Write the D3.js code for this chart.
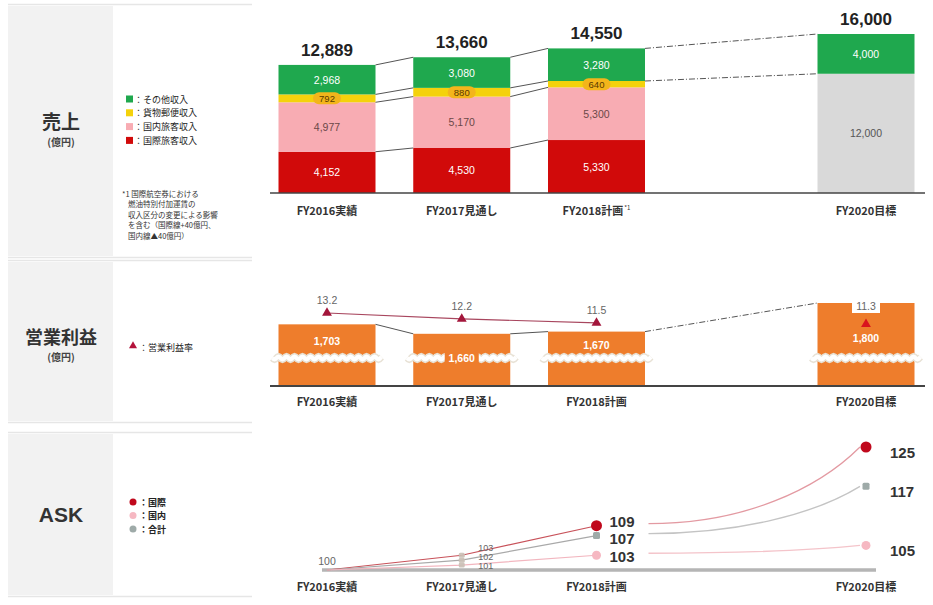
<!DOCTYPE html>
<html>
<head>
<meta charset="utf-8">
<script src="https://cdn.jsdelivr.net/npm/d3@7/dist/d3.min.js"></script>
<style>
  html, body { margin: 0; padding: 0; background: #fff; }
  svg { display: block; font-family: "Liberation Sans", Arial, "Noto Sans CJK JP", sans-serif; }
  .jp { font-family: "Noto Sans CJK JP", "Liberation Sans", sans-serif; }
</style>
</head>
<body>
<svg id="chart" width="933" height="605"></svg>
<script>
// ---- data ----
const years = [2016, 2017, 2018, 2020];
const categoryLabels = ["FY2016実績", "FY2017見通し", "FY2018計画", "FY2020目標"];
const categoryNotes = ["", "", "*1", ""];

// revenue (億円)
const intlPax  = [4152, 4530, 5330, 0];
const domPax   = [4977, 5170, 5300, 0];
const cargoRev = [792, 880, 640, 0];
const coreRev  = [0, 0, 0, 12000];
const otherRev = [2968, 3080, 3280, 4000];
const revenueTotal = [12889, 13660, 14550, 16000];

// operating profit (億円) and margin (%)
const opProfit = [1703, 1660, 1670, 1800];
const opMargin = [13.2, 12.2, 11.5, 11.3];

// ASK index (FY2016 = 100)
const askIntl  = [100, 103, 109, 125];
const askDom   = [100, 101, 103, 105];
const askTotal = [100, 102, 107, 117];

const revenueLegend = ["：その他収入", "：貨物郵便収入", "：国内旅客収入", "：国際旅客収入"];
const footnote = ["*1 国際航空券における", "燃油特別付加運賃の", "収入区分の変更による影響", "を含む（国際線+40億円、", "国内線▲40億円）"];

// ---- setup ----
const svg = d3.select("#chart");
const x = d3.scaleLinear().domain([2016, 2020]).range([327, 866]);
const barW = 97;

// left panel
const sections = [
  { y0: 6, y1: 256, title: "売上", sub: "(億円)", ty: 124, fs: 19 },
  { y0: 262, y1: 421, title: "営業利益", sub: "(億円)", ty: 339, fs: 18 },
  { y0: 434, y1: 595, title: "ASK", sub: null, ty: 516, fs: 21 }
];
sections.forEach(s => {
  svg.append("rect").attr("x", 8).attr("y", s.y0).attr("width", 105).attr("height", s.y1 - s.y0).attr("fill", "#f2f2f2");
  svg.append("line").attr("x1", 8).attr("x2", 252).attr("y1", s.y0 - 1.5).attr("y2", s.y0 - 1.5).attr("stroke", "#e6e6e6").attr("stroke-width", 1.5);
  svg.append("line").attr("x1", 8).attr("x2", 252).attr("y1", s.y1 + 1.5).attr("y2", s.y1 + 1.5).attr("stroke", "#e6e6e6").attr("stroke-width", 1.5);
  svg.append("text").attr("class", s.title === "ASK" ? "" : "jp").attr("x", 61).attr("y", s.ty)
    .attr("text-anchor", "middle").attr("dominant-baseline", "middle")
    .attr("font-size", s.fs).attr("font-weight", "bold").attr("fill", "#333").text(s.title);
  if (s.sub) {
    svg.append("text").attr("class", "jp").attr("x", 61).attr("y", s.ty + 19)
      .attr("text-anchor", "middle").attr("dominant-baseline", "middle")
      .attr("font-size", 10).attr("font-weight", "bold").attr("fill", "#444").text(s.sub);
  }
});

// ---- revenue stacked bars ----
const colors = { intl: "#d10a0a", dom: "#f8acb3", cargo: "#f4d20c", core: "#d9d9d9", other: "#1fa84e" };
const textColors = { intl: "#fff", dom: "#6b4848", cargo: "#5a3a00", core: "#555", other: "#fff" };
const keys = ["intl", "dom", "cargo", "core", "other"];
const rows = years.map((yr, i) => ({
  year: yr, intl: intlPax[i], dom: domPax[i], cargo: cargoRev[i], core: coreRev[i], other: otherRev[i]
}));
const stack = d3.stack().keys(keys)(rows);
const base1 = 193;
const y1 = d3.scaleLinear().domain([0, 16000]).range([base1, base1 - 159]);

const gRev = svg.append("g");
stack.forEach(layer => {
  layer.forEach((d, i) => {
    const v = d[1] - d[0];
    if (v <= 0) return;
    gRev.append("rect")
      .attr("x", x(years[i]) - barW / 2).attr("width", barW)
      .attr("y", y1(d[1])).attr("height", y1(d[0]) - y1(d[1]))
      .attr("fill", colors[layer.key]);
  });
});
// segment labels
stack.forEach(layer => {
  layer.forEach((d, i) => {
    const v = d[1] - d[0];
    if (v <= 0) return;
    const cy = (y1(d[0]) + y1(d[1])) / 2;
    const txt = d3.format(",")(v);
    if (layer.key === "cargo") {
      gRev.append("rect").attr("x", x(years[i]) - 14).attr("y", cy - 6).attr("width", 28).attr("height", 12)
        .attr("rx", 6).attr("fill", "#f3b51b");
    }
    gRev.append("text").attr("x", x(years[i])).attr("y", cy)
      .attr("text-anchor", "middle").attr("dominant-baseline", "central")
      .attr("font-size", layer.key === "cargo" ? 9.5 : 10.5).attr("fill", textColors[layer.key]).text(txt);
  });
});
// totals
revenueTotal.forEach((t, i) => {
  gRev.append("text").attr("x", x(years[i])).attr("y", y1(t) - 9)
    .attr("text-anchor", "middle").attr("font-size", 17).attr("font-weight", "bold").attr("fill", "#222")
    .text(d3.format(",")(t));
});
// connectors between bars
const bounds = i => [revenueTotal[i], revenueTotal[i] - otherRev[i], intlPax[i] + domPax[i], intlPax[i]];
for (let i = 0; i < years.length - 1; i++) {
  const a = bounds(i), b = bounds(i + 1);
  const n = years[i + 1] === 2020 ? 2 : 4;
  for (let k = 0; k < n; k++) {
    const bv = years[i + 1] === 2020 && k === 1 ? coreRev[i + 1] : b[k];
    gRev.append("line")
      .attr("x1", x(years[i]) + barW / 2).attr("y1", y1(a[k]))
      .attr("x2", x(years[i + 1]) - barW / 2).attr("y2", y1(bv))
      .attr("stroke", "#555").attr("stroke-width", 1)
      .attr("stroke-dasharray", years[i + 1] === 2020 ? "6,2,1,2" : null);
  }
}
// axis + categories
function axisRow(yAxis, yLabel, withNotes, thick) {
  svg.append("line").attr("x1", 270).attr("x2", 925).attr("y1", yAxis).attr("y2", yAxis)
    .attr("stroke", "#444").attr("stroke-width", thick || 1.5);
  categoryLabels.forEach((c, i) => {
    const t = svg.append("text").attr("class", "jp").attr("x", x(years[i])).attr("y", yLabel)
      .attr("text-anchor", "middle").attr("dominant-baseline", "middle")
      .attr("font-size", 11).attr("font-weight", "bold").attr("fill", "#333").text(c);
    if (withNotes && categoryNotes[i]) {
      t.append("tspan").attr("font-size", 6).attr("dy", -4).attr("dx", 1).attr("font-weight", "normal").text(categoryNotes[i]);
    }
  });
}
axisRow(base1, 212, true);

// revenue legend
const legendColors = [colors.other, colors.cargo, colors.dom, colors.intl];
revenueLegend.forEach((l, i) => {
  const yy = 99 + i * 13.8;
  svg.append("rect").attr("x", 126).attr("y", yy - 3.5).attr("width", 7).attr("height", 7).attr("fill", legendColors[i]);
  svg.append("text").attr("class", "jp").attr("x", 134).attr("y", yy).attr("dominant-baseline", "central")
    .attr("font-size", 9).attr("fill", "#222").text(l);
});
footnote.forEach((l, i) => {
  svg.append("text").attr("class", "jp").attr("x", i === 0 ? 122 : 128).attr("y", 193 + i * 10.5)
    .attr("dominant-baseline", "central").attr("font-size", 7.5).attr("fill", "#333").text(l);
});

// ---- operating profit (broken bars) ----
const base2 = 386, breakY = 358;
const y2 = d3.scaleLinear().domain([1550, 1800]).range([breakY, 303]);
const y3 = d3.scaleLinear().domain([11, 14]).range([325.9, 308.3]);
const gOp = svg.append("g");
const orange = "#ee7d2c";
opProfit.forEach((v, i) => {
  gOp.append("rect").attr("x", x(years[i]) - barW / 2).attr("width", barW)
    .attr("y", y2(v)).attr("height", base2 - y2(v)).attr("fill", orange);
});
// wavy break band
function wave(x0, x1, yy) {
  const pts = d3.range(x0, x1 + 0.5, 1).map(px => [px, yy + 1.4 * Math.sin((px - x0) / 4 * Math.PI)]);
  return d3.line()(pts);
}
opProfit.forEach((v, i) => {
  const xa = x(years[i]) - barW / 2 - 6, xb = x(years[i]) + barW / 2 + 6;
  gOp.append("path").attr("d", wave(xa, xb, breakY)).attr("fill", "none").attr("stroke", "#e8e2d6").attr("stroke-width", 7);
  gOp.append("path").attr("d", wave(xa, xb, breakY)).attr("fill", "none").attr("stroke", "#fff").attr("stroke-width", 4);
});
// connectors between bar tops
for (let i = 0; i < years.length - 1; i++) {
  gOp.append("line")
    .attr("x1", x(years[i]) + barW / 2).attr("y1", y2(opProfit[i]))
    .attr("x2", x(years[i + 1]) - barW / 2).attr("y2", y2(opProfit[i + 1]))
    .attr("stroke", "#555").attr("stroke-width", 1)
    .attr("stroke-dasharray", years[i + 1] === 2020 ? "6,2,1,2" : null);
}
// margin line (consecutive years)
gOp.append("path")
  .attr("d", d3.line().x((d, i) => x(years[i])).y(d => y3(d))(opMargin.slice(0, 3)))
  .attr("fill", "none").attr("stroke", "#a8465e").attr("stroke-width", 1.2);
// value labels
opProfit.forEach((v, i) => {
  const top = y2(v);
  let cy = (top + breakY) / 2;
  const onBreak = breakY - top < 25;
  const ty = y3(opMargin[i]);
  if (ty > top) cy = Math.max(cy, ty + 14);
  if (onBreak) {
    cy = breakY;
    gOp.append("rect").attr("x", x(years[i]) - 17).attr("y", cy - 6).attr("width", 34).attr("height", 12).attr("fill", orange);
  }
  gOp.append("text").attr("x", x(years[i])).attr("y", cy).attr("text-anchor", "middle").attr("dominant-baseline", "central")
    .attr("font-size", 10.5).attr("font-weight", "bold").attr("fill", "#fff").text(d3.format(",")(v));
});
// margin markers + labels
opMargin.forEach((m, i) => {
  const cx = x(years[i]), cy = y3(m);
  const inside = cy > y2(opProfit[i]);
  gOp.append("path").attr("d", d3.symbol().type(d3.symbolTriangle).size(42)())
    .attr("transform", `translate(${cx},${cy})`).attr("fill", inside ? "#d9141e" : "#a3163b");
  const ly = inside ? y2(opProfit[i]) + 3 : cy - 13;
  if (inside) {
    gOp.append("rect").attr("x", cx - 14).attr("y", ly - 6).attr("width", 28).attr("height", 13).attr("fill", "#fff");
  }
  gOp.append("text").attr("x", cx).attr("y", ly).attr("text-anchor", "middle").attr("dominant-baseline", "central")
    .attr("font-size", 10.5).attr("fill", "#666").text(d3.format(".1f")(m));
});
axisRow(base2, 403, false, 2);
// legend
svg.append("path").attr("d", d3.symbol().type(d3.symbolTriangle).size(28)()).attr("transform", "translate(133,346)").attr("fill", "#b3123a");
svg.append("text").attr("class", "jp").attr("x", 139).attr("y", 347).attr("dominant-baseline", "central")
  .attr("font-size", 9).attr("fill", "#222").text("：営業利益率");

// ---- ASK ----
const y4 = d3.scaleLinear().domain([100, 125]).range([570, 447]);
const gAsk = svg.append("g");
gAsk.append("line").attr("x1", x(2016) - 5).attr("x2", x(2020) + 10).attr("y1", y4(100)).attr("y2", y4(100))
  .attr("stroke", "#b5b5b5").attr("stroke-width", 3.5);
categoryLabels.forEach((c, i) => {
  svg.append("text").attr("class", "jp").attr("x", x(years[i])).attr("y", 588)
    .attr("text-anchor", "middle").attr("dominant-baseline", "middle")
    .attr("font-size", 11).attr("font-weight", "bold").attr("fill", "#333").text(c);
});
const askSeries = [
  { name: "国際", vals: askIntl, line: "#c8525a", curve: "#e39aa2", marker: "#c0081c", shape: "circle" },
  { name: "合計", vals: askTotal, line: "#a9a9a9", curve: "#c4c4c4", marker: "#9eaaa8", shape: "square" },
  { name: "国内", vals: askDom, line: "#f2b6bf", curve: "#f4c4ca", marker: "#f6b8c2", shape: "circle" }
];
askSeries.forEach(s => {
  const pts = s.vals.map((v, i) => [x(years[i]), y4(v)]);
  gAsk.append("path").attr("d", d3.line()(pts.slice(0, 3))).attr("fill", "none").attr("stroke", s.line).attr("stroke-width", 1.2);
  // growth curve towards the FY2020 target
  const x0 = pts[2][0] + 52, yy0 = pts[2][1] - 2, x1 = pts[3][0] - 6, yy1 = pts[3][1];
  const dx = x1 - x0, dy = yy1 - yy0;
  const p = d3.path();
  p.moveTo(x0, yy0);
  p.bezierCurveTo(x0 + 0.45 * dx, yy0, x0 + 0.8 * dx, yy0 + 0.45 * dy, x1, yy1);
  gAsk.append("path").attr("d", p.toString()).attr("fill", "none").attr("stroke", s.curve).attr("stroke-width", 1.3);
  pts.forEach((pt, i) => {
    if (i === 0) return;
    if (i === 1) {
      // small stacked markers at the interim year
      gAsk.append("rect").attr("x", pt[0] - 3).attr("y", pt[1] - 2.5).attr("width", 6).attr("height", 5)
        .attr("rx", 1.5).attr("fill", "#c9bfb5").attr("opacity", 0.9);
      return;
    }
    if (s.shape === "circle") {
      gAsk.append("circle").attr("cx", pt[0]).attr("cy", pt[1]).attr("r", s.name === "国際" ? 5.5 : 4.5)
        .attr("fill", s.marker);
    } else {
      gAsk.append("rect").attr("x", pt[0] - 3.5).attr("y", pt[1] - 3.5).attr("width", 7).attr("height", 7)
        .attr("rx", 1.5).attr("fill", s.marker);
    }
  });
});
// ASK labels
gAsk.append("text").attr("x", x(2016)).attr("y", y4(100) - 9).attr("text-anchor", "middle")
  .attr("dominant-baseline", "central").attr("font-size", 10.5).attr("fill", "#666").text(askIntl[0]);
function spreadLabels(i, gap, shift) {
  const vs = askSeries.map(s => s.vals[i]);
  const mean = d3.mean(vs, v => y4(v));
  return vs.map((v, k) => mean + (k - 1) * gap + shift);
}
const l17 = spreadLabels(1, 9, -3);
askSeries.forEach((s, k) => {
  gAsk.append("text").attr("x", x(2017) + 24).attr("y", l17[k]).attr("text-anchor", "middle")
    .attr("dominant-baseline", "central").attr("font-size", 9).attr("fill", "#666").text(s.vals[1]);
});
const l18 = spreadLabels(2, 17.5, 0);
askSeries.forEach((s, k) => {
  gAsk.append("text").attr("x", x(2018) + 13).attr("y", l18[k])
    .attr("dominant-baseline", "central").attr("font-size", 15).attr("font-weight", "bold").attr("fill", "#333").text(s.vals[2]);
  gAsk.append("text").attr("x", x(2020) + 24).attr("y", y4(s.vals[3]) + 5)
    .attr("dominant-baseline", "central").attr("font-size", 15).attr("font-weight", "bold").attr("fill", "#333").text(s.vals[3]);
});
// ASK legend
const askLegend = [askSeries[0], askSeries[2], askSeries[1]];
askLegend.forEach((s, i) => {
  const yy = 502 + i * 13.5;
  svg.append("circle").attr("cx", 133).attr("cy", yy).attr("r", 3.5).attr("fill", s.marker);
  svg.append("text").attr("class", "jp").attr("x", 139).attr("y", yy).attr("dominant-baseline", "central")
    .attr("font-size", 9).attr("font-weight", "bold").attr("fill", "#222").text("：" + s.name);
});
</script>
</body>
</html>
